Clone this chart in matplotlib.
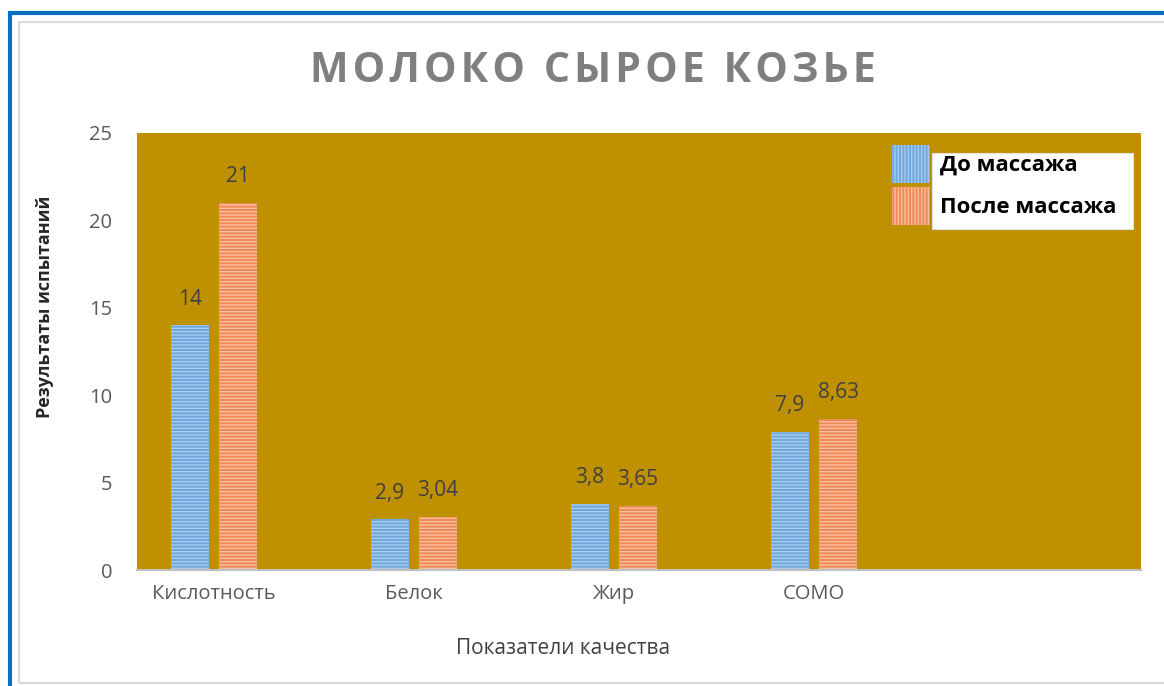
import matplotlib.pyplot as plt
from matplotlib.patches import Patch, Rectangle
import numpy as np

# data
categories = ["Кислотность", "Белок", "Жир", "СОМО"]
before = [14, 2.9, 3.8, 7.9]
after = [21, 3.04, 3.65, 8.63]
before_labels = ["14", "2,9", "3,8", "7,9"]
after_labels = ["21", "3,04", "3,65", "8,63"]
series_names = ["До массажа", "После массажа"]

plt.rcParams['font.family'] = ['Open Sans', 'DejaVu Sans']
plt.rcParams['hatch.linewidth'] = 1.0

W, H = 1164, 686
fig = plt.figure(figsize=(W / 100, H / 100), dpi=100)
ax = fig.add_axes([137 / W, 1 - 570 / H, (1141 - 137) / W, (570 - 133) / H])

# frame lines around the chart (picture is cropped on right/bottom)
fig.patches.append(Rectangle((19 / W, 3 / H), 1.2, 1 - 25 / H, transform=fig.transFigure,
                             fill=False, edgecolor="#d9d9d9", linewidth=1.5))
fig.patches.append(Rectangle((10 / W, -0.1), 1.2, 1.1 - 13 / H, transform=fig.transFigure,
                             fill=False, edgecolor="#0a6fc2", linewidth=3))

ax.set_facecolor("#bf9000")
x = np.arange(len(categories))
w = 0.19
off = 0.12
b1 = ax.bar(x - off, before, w, color="#6fa8dc", edgecolor="#a9cbee", hatch="-----", linewidth=0)
b2 = ax.bar(x + off, after, w, color="#f08a55", edgecolor="#f8c0a2", hatch="-----", linewidth=0)

for rect, lab in zip(b1, before_labels):
    ax.text(rect.get_x() + rect.get_width() / 2, rect.get_height() + 0.9, lab,
            ha="center", va="bottom", fontsize=15, color="#404040")
for rect, lab in zip(b2, after_labels):
    ax.text(rect.get_x() + rect.get_width() / 2, rect.get_height() + 0.9, lab,
            ha="center", va="bottom", fontsize=15, color="#404040")

# category spacing: 200 px per category, first centre 77 px from left edge
ax.set_xlim(-0.385, -0.385 + 1004 / 200)
ax.set_ylim(0, 25)
ax.set_yticks([0, 5, 10, 15, 20, 25])
ax.set_xticks(x)
ax.set_xticklabels(categories)
ax.tick_params(axis="both", length=0, labelsize=14.5, colors="#595959")
ax.tick_params(axis="x", pad=10)
ax.tick_params(axis="y", pad=18)
for s in ["top", "left", "right"]:
    ax.spines[s].set_visible(False)
ax.spines["bottom"].set_color("#bfbfbf")
ax.spines["bottom"].set_linewidth(1.5)

ax.set_xlabel("Показатели качества", fontsize=15, color="#404040")
ax.xaxis.set_label_coords((563 - 137) / 1004, -(648 - 570) / 437)
ax.xaxis.label.set_va("center")
ax.set_ylabel("Результаты испытаний", fontsize=13, fontweight="bold", color="#262626")
ax.yaxis.set_label_coords(-(137 - 45) / 1004, 1 - (307 - 133) / 437)
ax.yaxis.label.set_va("center")

title = "\u200a".join("МОЛОКО СЫРОЕ КОЗЬЕ")
fig.text(593 / W, 1 - 72 / H, title, ha="center", va="center",
         fontsize=29.5, fontweight="bold", color="#7f7f7f")

# legend: white box behind the labels only
ax.add_patch(Rectangle(((932 - 137) / 1004, 1 - (229 - 133) / 437), 201 / 1004, 76 / 437,
                       transform=ax.transAxes, facecolor="white", edgecolor="#e0e0e0",
                       linewidth=0.8, zorder=3))
handles = [Patch(facecolor="#6fa8dc", edgecolor="#a9cbee", hatch="|||||", linewidth=0),
           Patch(facecolor="#f08a55", edgecolor="#f8c0a2", hatch="|||||", linewidth=0)]
leg = ax.legend(handles, series_names, loc="upper left",
                bbox_to_anchor=((892 - 137) / 1004, 1 - (145 - 133) / 437),
                frameon=False, prop={"size": 16, "weight": "bold"}, handlelength=1.71, handleheight=2.25,
                handletextpad=0.45, labelspacing=0.2, borderpad=0, borderaxespad=0)
leg.set_zorder(4)

fig.savefig("out.png", dpi=100)
